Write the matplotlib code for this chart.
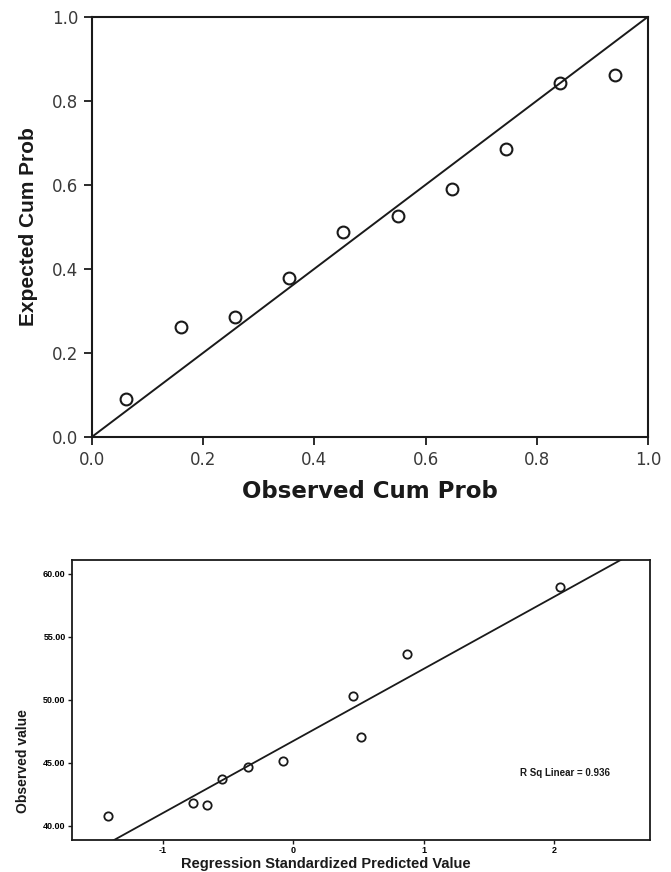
import numpy as np
import matplotlib
matplotlib.use('Agg')
import matplotlib.pyplot as plt

# P-P plot values
observed_cum = [0.062, 0.161, 0.257, 0.355, 0.452, 0.551, 0.647, 0.745, 0.842, 0.940]
expected_cum = [0.091, 0.262, 0.286, 0.379, 0.488, 0.525, 0.590, 0.684, 0.841, 0.862]
pp_ticks = [0.0, 0.2, 0.4, 0.6, 0.8, 1.0]

# regression scatter values
pred_std = [-1.42, -0.77, -0.66, -0.55, -0.35, -0.08, 0.46, 0.52, 0.87, 2.05]
observed_val = [40.75, 41.76, 41.65, 43.73, 44.69, 45.15, 50.30, 47.00, 53.65, 58.93]
x_ticks = [-1, 0, 1, 2]
y_ticks = [40, 45, 50, 55, 60]
r_sq_text = 'R Sq Linear = 0.936'

ink = '#1a1a1a'
narrow = ['Liberation Sans Narrow', 'Liberation Sans', 'DejaVu Sans']

fig = plt.figure(figsize=(6.71, 8.72), dpi=100)

# ---- top: P-P plot
ax1 = fig.add_axes([0.137, 0.499, 0.829, 0.482])
ax1.plot([0, 1], [0, 1], color=ink, lw=1.4)
ax1.plot(observed_cum, expected_cum, 'o', mfc='none', mec=ink, ms=8.5, mew=1.5)
ax1.set_xlim(0, 1)
ax1.set_ylim(0, 1)
ax1.set_xticks(pp_ticks)
ax1.set_yticks(pp_ticks)
ax1.set_xticklabels(['%.1f' % t for t in pp_ticks])
ax1.set_yticklabels(['%.1f' % t for t in pp_ticks])
ax1.tick_params(direction='out', length=6, width=1.3, color=ink,
                labelsize=12, labelcolor='#3a3a3a', pad=4)
for s in ax1.spines.values():
    s.set_linewidth(1.5)
    s.set_color(ink)
ax1.set_xlabel('Observed Cum Prob', fontsize=16.5, fontweight='bold',
               family='DejaVu Sans', color=ink)
ax1.xaxis.set_label_coords(0.5, -0.102)
ax1.set_ylabel('Expected Cum Prob', fontsize=15, fontweight='bold',
               family='Liberation Sans', color=ink)
ax1.yaxis.set_label_coords(-0.097, 0.5)

# ---- bottom: observed vs standardized predicted
ax2 = fig.add_axes([0.107, 0.037, 0.862, 0.321])
ax2.plot(pred_std, observed_val, 'o', mfc='none', mec=ink, ms=6, mew=1.3)
xlim = (-1.70, 2.74)
slope, icpt = np.polyfit(pred_std, observed_val, 1)
xs = np.array(xlim)
ax2.plot(xs, slope * xs + icpt, color=ink, lw=1.3)
ax2.set_xlim(*xlim)
ax2.set_ylim(38.88, 61.1)
ax2.set_xticks(x_ticks)
ax2.set_yticks(y_ticks)
ax2.set_xticklabels([str(t) for t in x_ticks])
ax2.set_yticklabels(['%.2f' % t for t in y_ticks])
ax2.tick_params(direction='out', length=3, width=1.0, color=ink,
                labelsize=6.5, pad=1.5)
for lab in ax2.get_xticklabels() + ax2.get_yticklabels():
    lab.set_family(narrow)
    lab.set_fontweight('bold')
for s in ax2.spines.values():
    s.set_linewidth(1.3)
    s.set_color(ink)
ax2.set_xlabel('Regression Standardized Predicted Value', fontsize=10.5,
               fontweight='bold', family=narrow, color=ink)
ax2.xaxis.set_label_coords(0.44, -0.062)
ax2.set_ylabel('Observed value', fontsize=10, fontweight='bold',
               family=narrow, color=ink)
ax2.yaxis.set_label_coords(-0.073, 0.28)
ax2.text(0.775, 0.24, r_sq_text, transform=ax2.transAxes, fontsize=7,
         fontweight='bold', family=narrow, color=ink, va='center')

fig.savefig('out.png', dpi=100)
